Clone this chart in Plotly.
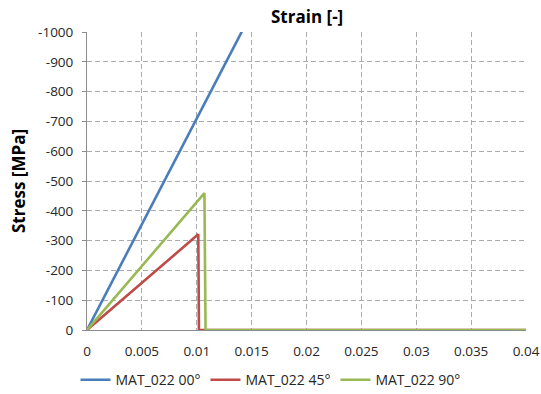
import plotly.graph_objects as go

# Stress-strain curves (compression, negative stress) for three fibre orientations
strain_00 = [0.0, 0.0155]
stress_00 = [0.0, -1100.0]

strain_45 = [0.0, 0.01014, 0.0102, 0.04]
stress_45 = [0.0, -321.0, 0.0, 0.0]

strain_90 = [0.0, 0.0107, 0.0108, 0.04]
stress_90 = [0.0, -459.0, 0.0, 0.0]

series_names = ["MAT_022 00°", "MAT_022 45°", "MAT_022 90°"]
series_colors = ["#4A7EBB", "#BE4B48", "#98B954"]

x_ticks = [0, 0.005, 0.01, 0.015, 0.02, 0.025, 0.03, 0.035, 0.04]
y_ticks = [0, -100, -200, -300, -400, -500, -600, -700, -800, -900, -1000]

font_family = "Open Sans, Liberation Sans, Arial, sans-serif"

fig = go.Figure()
for xs, ys, name, color in zip(
    [strain_00, strain_45, strain_90],
    [stress_00, stress_45, stress_90],
    series_names,
    series_colors,
):
    fig.add_trace(go.Scatter(
        x=xs, y=ys, mode="lines", name=name,
        line=dict(color=color, width=2.6),
    ))

grid_color = "#ABABAB"
axis_color = "#8C8C8C"

fig.update_layout(
    width=541, height=394,
    margin=dict(l=87, r=15, t=32, b=64, autoexpand=False),
    paper_bgcolor="white",
    plot_bgcolor="white",
    font=dict(family=font_family, size=13, color="#262626"),
    showlegend=True,
    legend=dict(
        orientation="h",
        xref="container", yref="container",
        x=0.5, xanchor="center", y=0.035, yanchor="middle",
        font=dict(size=14), itemwidth=30, traceorder="normal",
    ),
    xaxis=dict(
        range=[0, 0.04],
        tickvals=x_ticks,
        ticktext=[f"{v:g}" for v in x_ticks],
        showgrid=True, gridcolor=grid_color, griddash="5px,3px", gridwidth=1,
        showline=True, linecolor=axis_color, linewidth=1,
        zeroline=False,
        ticks="", ticklabelstandoff=9,
        tickfont=dict(size=13.5),
    ),
    yaxis=dict(
        range=[0, -1000],
        tickvals=y_ticks,
        ticktext=[str(v) for v in y_ticks],
        showgrid=True, gridcolor=grid_color, griddash="5px,3px", gridwidth=1,
        showline=True, linecolor=axis_color, linewidth=1,
        zeroline=False,
        ticks="outside", ticklen=4, tickcolor=axis_color,
        ticklabelstandoff=6,
        tickfont=dict(size=13.5),
        title=dict(text="<b>Stress [MPa]</b>", font=dict(size=17, color="#000000"), standoff=8),
    ),
    annotations=[dict(
        text="<b>Strain [-]</b>", xref="paper", yref="paper",
        x=0.5, y=1.0, xanchor="center", yanchor="bottom", yshift=2,
        showarrow=False, font=dict(size=17, color="#000000"),
    )],
)

fig.write_html("out.html")
